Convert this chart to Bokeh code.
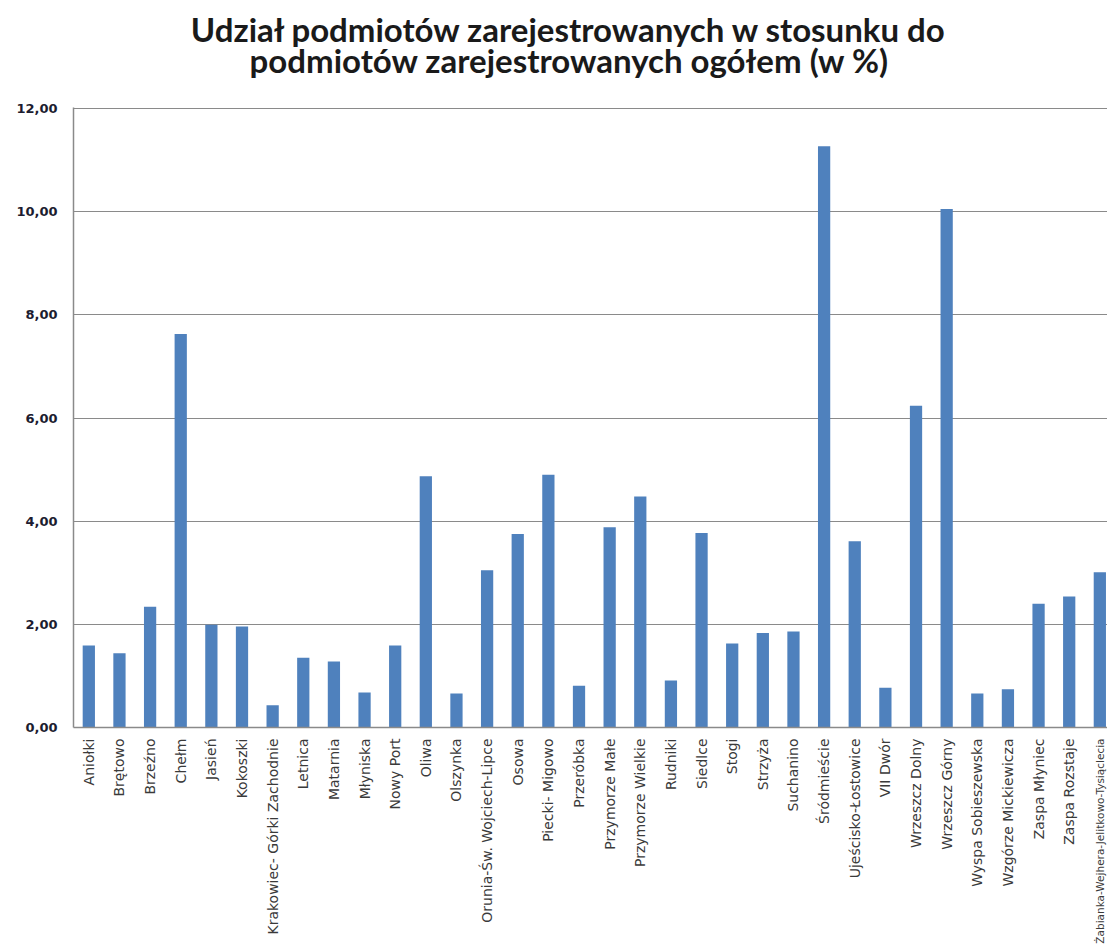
import math

from bokeh.core.properties import value
from bokeh.embed import file_html
from bokeh.layouts import column
from bokeh.models import ColumnDataSource, FixedTicker, Range1d
from bokeh.plotting import figure
from bokeh.resources import INLINE

# Gdańsk districts and their share of registered entities (%)
districts = [
    "Aniołki", "Brętowo", "Brzeźno", "Chełm", "Jasień", "Kokoszki",
    "Krakowiec- Górki Zachodnie", "Letnica", "Matarnia", "Młyniska",
    "Nowy Port", "Oliwa", "Olszynka", "Orunia-Św. Wojciech-Lipce", "Osowa",
    "Piecki- Migowo", "Przeróbka", "Przymorze Małe", "Przymorze Wielkie",
    "Rudniki", "Siedlce", "Stogi", "Strzyża", "Suchanino", "Śródmieście",
    "Ujeścisko-Łostowice", "VII Dwór", "Wrzeszcz Dolny", "Wrzeszcz Górny",
    "Wyspa Sobieszewska", "Wzgórze Mickiewicza", "Zaspa Młyniec",
    "Zaspa Rozstaje", "Żabianka-Wejhera-Jelitkowo-Tysiąclecia",
]
share = [
    1.59, 1.44, 2.34, 7.63, 1.99, 1.96,
    0.43, 1.35, 1.28, 0.68,
    1.59, 4.87, 0.66, 3.05, 3.75,
    4.90, 0.81, 3.88, 4.48,
    0.91, 3.77, 1.63, 1.83, 1.86, 11.27,
    3.61, 0.77, 6.24, 10.05,
    0.66, 0.74, 2.40,
    2.54, 3.01,
]
y_ticks = [0, 2, 4, 6, 8, 10, 12]
y_tick_labels = ["0,00", "2,00", "4,00", "6,00", "8,00", "10,00", "12,00"]
title_lines = [
    "Udział podmiotów zarejestrowanych w stosunku do",
    "podmiotów zarejestrowanych ogółem (w %)",
]

W = 1107
LEFT = 73
TITLE_H, MAIN_H, LABEL_H = 99, 636, 212
GREY = "#8a8a8a"

positions = list(range(len(districts)))
# very long names get a smaller font so they fit in the label strip
label_size = ["14px" if len(n) <= 28 else "10.5px" for n in districts]
source = ColumnDataSource(dict(x=positions, share=share, name=districts,
                               label_size=label_size))
x_range = Range1d(-0.5, 33.25)


def strip(height, xr):
    """A bare figure used as a drawing area for text."""
    f = figure(width=W, height=height, title=None, output_backend="svg",
               toolbar_location=None, x_axis_type=None, y_axis_type=None,
               x_range=xr, y_range=Range1d(0, height),
               min_border_left=LEFT, min_border_right=0,
               min_border_top=0, min_border_bottom=0,
               outline_line_color=None)
    f.grid.visible = False
    return f


# --- heading (x in canvas pixels, frame starts at LEFT) ---
head = strip(TITLE_H, Range1d(LEFT, W))
head.text(x=[569, 569], y=[TITLE_H - 28, TITLE_H - 59], text=title_lines,
          text_align="center", text_baseline="alphabetic",
          text_font=value("Lato"), text_font_style="bold",
          text_font_size="33px", text_color="#1a1a1a")

# --- bar chart ---
p = figure(
    width=W, height=MAIN_H, title=None,
    output_backend="svg", toolbar_location=None,
    x_range=x_range, y_range=Range1d(0, 12.02),
    min_border_left=LEFT, min_border_right=0,
    min_border_top=8, min_border_bottom=8,
)
p.outline_line_color = None

p.vbar(x="x", top="share", width=0.4, source=source,
       fill_color="#4f81bd", line_color=None)

p.yaxis.ticker = FixedTicker(ticks=y_ticks)
p.yaxis.major_label_overrides = dict(zip(y_ticks, y_tick_labels))
p.yaxis.major_label_text_font = "DejaVu Sans"
p.yaxis.major_label_text_font_style = "bold"
p.yaxis.major_label_text_font_size = "13px"
p.yaxis.major_label_text_color = "#1c1c30"
p.yaxis.major_label_standoff = 16
p.yaxis.major_tick_line_color = None
p.yaxis.major_tick_out = 0
p.yaxis.minor_tick_line_color = None
p.yaxis.axis_line_color = GREY
p.yaxis.axis_line_width = 1.5

p.xaxis.ticker = FixedTicker(ticks=[])
p.xaxis.major_tick_line_color = None
p.xaxis.major_tick_out = 0
p.xaxis.major_label_standoff = 0
p.xaxis.minor_tick_line_color = None
p.xaxis.axis_line_color = GREY
p.xaxis.axis_line_width = 1.5

p.xgrid.grid_line_color = None
p.ygrid.grid_line_color = GREY
p.ygrid.grid_line_width = 1.2

# --- district names, rotated, below the category axis ---
names = strip(LABEL_H, x_range)
names.text(x="x", y=LABEL_H - 3, text="name", source=source,
           angle=math.pi / 2, text_align="right", text_baseline="middle",
           text_font=value("DejaVu Sans"), text_font_size="label_size",
           text_color="#3a3a3a")

layout = column(head, p, names, spacing=0)
open("out.html", "w").write(file_html(layout, INLINE))
